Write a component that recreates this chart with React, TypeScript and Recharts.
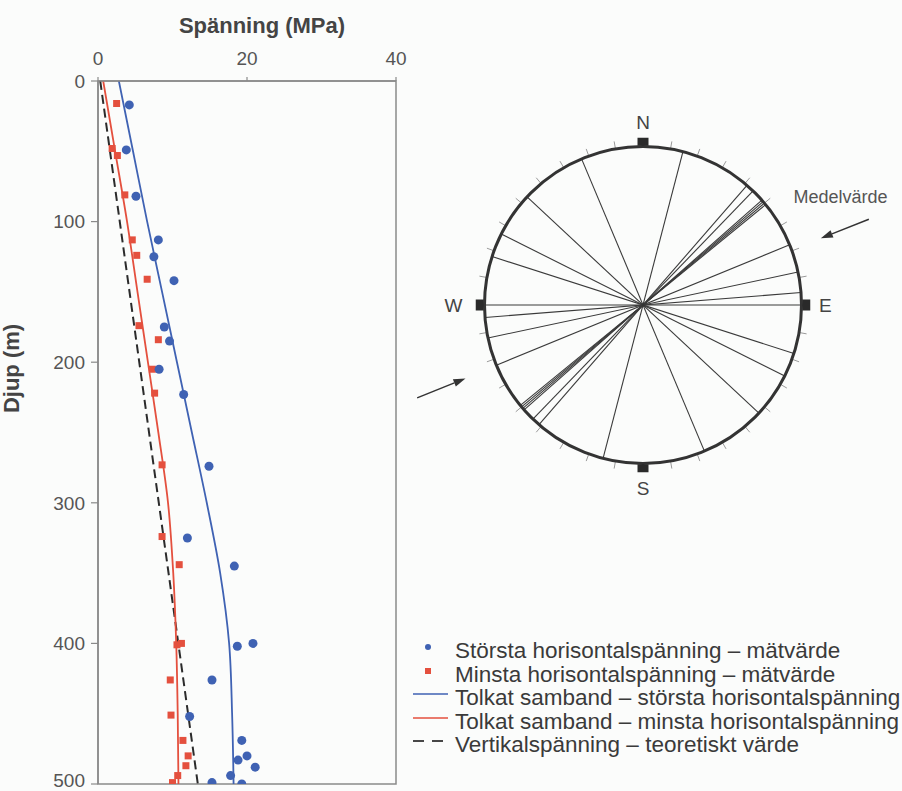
import React from "react";
import {
  ComposedChart,
  Line,
  Scatter,
  XAxis,
  YAxis,
  ReferenceArea,
  ReferenceLine,
  ReferenceDot,
  Legend,
} from "recharts";

const FONT = '"Liberation Sans", Arial, Helvetica, sans-serif';
const BLUE = "#3f62b3";
const RED = "#e4503e";
const INK = "#333333";
const AXIS = "#8a8a8a";

// Measured stresses (s = MPa, d = depth in m)
const maxHorizontal = [
  { s: 4.2, d: 17 }, { s: 3.8, d: 49 }, { s: 5.1, d: 82 }, { s: 8.1, d: 113 },
  { s: 7.5, d: 125 }, { s: 10.2, d: 142 }, { s: 8.9, d: 175 }, { s: 9.6, d: 185 },
  { s: 8.2, d: 205 }, { s: 11.5, d: 223 }, { s: 14.9, d: 274 }, { s: 12.0, d: 325 },
  { s: 18.3, d: 345 }, { s: 18.7, d: 402 }, { s: 20.8, d: 400 }, { s: 15.3, d: 426 },
  { s: 12.3, d: 452 }, { s: 19.3, d: 469 }, { s: 18.8, d: 483 }, { s: 20.0, d: 480 },
  { s: 21.1, d: 488 }, { s: 17.8, d: 494 }, { s: 15.3, d: 499 }, { s: 19.3, d: 500 },
];

const minHorizontal = [
  { s: 2.5, d: 16 }, { s: 1.9, d: 48 }, { s: 2.6, d: 53 }, { s: 3.6, d: 81 },
  { s: 4.6, d: 113 }, { s: 5.2, d: 124 }, { s: 6.6, d: 141 }, { s: 5.5, d: 174 },
  { s: 8.1, d: 184 }, { s: 7.3, d: 205 }, { s: 7.6, d: 222 }, { s: 8.6, d: 273 },
  { s: 8.6, d: 324 }, { s: 10.9, d: 344 }, { s: 10.6, d: 401 }, { s: 11.2, d: 400 },
  { s: 9.7, d: 426 }, { s: 9.8, d: 451 }, { s: 11.4, d: 469 }, { s: 12.1, d: 480 },
  { s: 11.8, d: 487 }, { s: 10.7, d: 494 }, { s: 10.0, d: 499 },
];

// Interpreted trends
const fitDepths = [0, 50, 100, 150, 200, 250, 300, 350, 400, 450, 500];
const fitMax = [2.8, 4.7, 6.6, 8.6, 10.6, 12.6, 14.6, 16.4, 17.6, 18.0, 18.2];
const fitMin = [0.7, 2.3, 3.9, 5.3, 6.7, 8.1, 9.4, 10.1, 10.5, 10.7, 10.8];

// Theoretical vertical stress
const verticalDepths = [0, 500];
const verticalStress = [0.3, 13.4];

const stressTicks = [0, 20, 40];
const depthTicks = [0, 100, 200, 300, 400, 500];

// Directions of the largest horizontal stress, degrees from north
const orientations = [14.6, 41, 44, 48.6, 49.3, 50, 50.7, 67.7, 78, 85.5, 90, 107.8, 116.6, 133, 157.2];
const cardinals = [
  { name: "N", az: 0, label: 1.15 },
  { name: "E", az: 90, label: 1.15 },
  { name: "S", az: 180, label: 1.155 },
  { name: "W", az: 270, label: 1.195 },
];

const legendItems = [
  { label: "Största horisontalspänning – mätvärde", kind: "dot", color: BLUE },
  { label: "Minsta horisontalspänning – mätvärde", kind: "square", color: RED },
  { label: "Tolkat samband – största horisontalspänning", kind: "line", color: BLUE },
  { label: "Tolkat samband – minsta horisontalspänning", kind: "line", color: RED },
  { label: "Vertikalspänning – teoretiskt värde", kind: "dash", color: INK },
];

const fitMaxData = fitDepths.map((d, i) => ({ d, s: fitMax[i] }));
const fitMinData = fitDepths.map((d, i) => ({ d, s: fitMin[i] }));
const verticalData = verticalDepths.map((d, i) => ({ d, s: verticalStress[i] }));

// rose geometry: px per unit radius and chart box
const ROSE_R = 158.5;
const ROSE_W = 520;
const ROSE_H = 420;
const ROSE_CX = 642.5;
const ROSE_CY = 305;
const xSpan = ROSE_W / 2 / ROSE_R;
const ySpan = ROSE_H / 2 / ROSE_R;

const polar = (az: number, r: number) => {
  const a = (az * Math.PI) / 180;
  return { x: r * Math.sin(a), y: r * Math.cos(a) };
};

const tickAngles: number[] = [];
for (let a = 10; a < 360; a += 10) if (a % 90 !== 0) tickAngles.push(a);

const arrows = [
  { from: { x: 1.425, y: 0.541 }, to: { x: 1.122, y: 0.421 } },
  { from: { x: -1.425, y: -0.586 }, to: { x: -1.12, y: -0.463 } },
];
const meanLabelPos = { x: 0.9495, y: 0.6435 };

const circleShape = (p: any) => <circle cx={p.cx} cy={p.cy} r={4.5} fill={BLUE} />;
const squareShape = (p: any) => (
  <rect x={p.cx - 3.5} y={p.cy - 3.5} width={7} height={7} fill={RED} />
);

const arrowShape = (p: any) => {
  const { x1, y1, x2, y2 } = p;
  const ang = Math.atan2(y2 - y1, x2 - x1);
  const len = 12;
  const half = 4;
  const bx = x2 - len * Math.cos(ang);
  const by = y2 - len * Math.sin(ang);
  const nx = -Math.sin(ang) * half;
  const ny = Math.cos(ang) * half;
  return (
    <g>
      <line x1={x1} y1={y1} x2={bx} y2={by} stroke={INK} strokeWidth={1.5} />
      <polygon points={`${x2},${y2} ${bx + nx},${by + ny} ${bx - nx},${by - ny}`} fill={INK} />
    </g>
  );
};

const LegendBox = () => (
  <div style={{ fontFamily: FONT, fontSize: 22.5, color: "#3a3a3a", whiteSpace: "nowrap" }}>
    {legendItems.map((item) => (
      <div key={item.label} style={{ display: "flex", height: 23.5 }}>
        <svg width={45} height={23.5} style={{ flex: "none" }}>
          {item.kind === "dot" && <circle cx={18} cy={8} r={3} fill={item.color} />}
          {item.kind === "square" && <rect x={15} y={5} width={6} height={6} fill={item.color} />}
          {item.kind === "line" && <line x1={3} y1={8} x2={38} y2={8} stroke={item.color} strokeWidth={1.6} />}
          {item.kind === "dash" && (
            <g stroke={item.color} strokeWidth={1.8}>
              <line x1={3} y1={8} x2={14} y2={8} />
              <line x1={22} y1={8} x2={33} y2={8} />
            </g>
          )}
        </svg>
        <span style={{ lineHeight: "23.5px" }}>{item.label}</span>
      </div>
    ))}
  </div>
);

export default function App() {
  return (
    <div
      style={{
        position: "absolute",
        left: 0,
        top: 0,
        width: 902,
        height: 791,
        background: "#fbfcfb",
        overflow: "hidden",
        fontFamily: FONT,
      }}
    >
      <ComposedChart
        layout="vertical"
        width={902}
        height={791}
        margin={{ top: 51, right: 506, bottom: 7, left: 38 }}
      >
        <XAxis
          type="number"
          dataKey="s"
          orientation="top"
          domain={[0, 40]}
          ticks={stressTicks}
          allowDataOverflow
          height={30}
          tickSize={4}
          tickMargin={12}
          axisLine={{ stroke: AXIS, strokeWidth: 1.5 }}
          tickLine={{ stroke: AXIS, strokeWidth: 1.2 }}
          tick={{ fill: "#555", fontSize: 19, fontFamily: FONT }}
          label={{
            value: "Spänning (MPa)",
            position: "center",
            dx: 15,
            dy: -41,
            fill: "#444",
            fontSize: 22,
            fontWeight: 700,
            fontFamily: FONT,
          }}
        />
        <YAxis
          type="number"
          dataKey="d"
          domain={[0, 500]}
          ticks={depthTicks}
          allowDataOverflow
          width={60}
          tickSize={7}
          tickMargin={6}
          axisLine={{ stroke: AXIS, strokeWidth: 1.5 }}
          tickLine={{ stroke: AXIS, strokeWidth: 1.2 }}
          tick={{ fill: "#555", fontSize: 19, fontFamily: FONT }}
          label={{
            value: "Djup (m)",
            angle: -90,
            position: "center",
            dx: -57,
            dy: -64,
            fill: "#444",
            fontSize: 22,
            fontWeight: 700,
            fontFamily: FONT,
          }}
        />
        <ReferenceArea x1={0} x2={40} y1={0} y2={500} fill="none" fillOpacity={0} stroke={AXIS} strokeWidth={1.5} />
        <Line
          data={verticalData}
          dataKey="s"
          type="linear"
          stroke="#2b2b2b"
          strokeWidth={2}
          strokeDasharray="9 5"
          dot={false}
          isAnimationActive={false}
        />
        <Line
          data={fitMinData}
          dataKey="s"
          type="monotone"
          stroke={RED}
          strokeWidth={1.8}
          dot={false}
          isAnimationActive={false}
        />
        <Line
          data={fitMaxData}
          dataKey="s"
          type="monotone"
          stroke={BLUE}
          strokeWidth={1.8}
          dot={false}
          isAnimationActive={false}
        />
        <Scatter data={minHorizontal} shape={squareShape} isAnimationActive={false} />
        <Scatter data={maxHorizontal} shape={circleShape} isAnimationActive={false} />
        <Legend
          layout="horizontal"
          verticalAlign="middle"
          align="center"
          width={492}
          content={<LegendBox />}
          wrapperStyle={{ left: 410, top: 639.3, width: 492 }}
        />
      </ComposedChart>

      <div style={{ position: "absolute", left: ROSE_CX - ROSE_W / 2, top: ROSE_CY - ROSE_H / 2 }}>
        <ComposedChart width={ROSE_W} height={ROSE_H} margin={{ top: 0, right: 0, bottom: 0, left: 0 }}>
          <XAxis type="number" dataKey="x" domain={[-xSpan, xSpan]} allowDataOverflow hide />
          <YAxis type="number" dataKey="y" domain={[-ySpan, ySpan]} allowDataOverflow hide />
          {tickAngles.map((a) => (
            <ReferenceLine key={`t${a}`} segment={[polar(a, 1), polar(a, 1.048)]} stroke="#9a9a9a" strokeWidth={1} />
          ))}
          {orientations.map((az) => (
            <ReferenceLine
              key={`o${az}`}
              segment={[polar(az, 1), polar(az + 180, 1)]}
              stroke="#3a3a3a"
              strokeWidth={1.1}
            />
          ))}
          <ReferenceDot
            x={0}
            y={0}
            shape={(p: any) => (
              <circle cx={p.cx} cy={p.cy} r={ROSE_R} fill="none" stroke={INK} strokeWidth={3} />
            )}
          />
          {cardinals.map((c) => {
            const sq = polar(c.az, 1.03);
            const lb = polar(c.az, c.label);
            const vertical = c.az % 180 === 0;
            return (
              <React.Fragment key={c.name}>
                <ReferenceDot
                  x={sq.x}
                  y={sq.y}
                  shape={(p: any) => (
                    <rect
                      x={p.cx - (vertical ? 5.5 : 4)}
                      y={p.cy - (vertical ? 4 : 5.5)}
                      width={vertical ? 11 : 8}
                      height={vertical ? 8 : 11}
                      fill="#2a2a2a"
                    />
                  )}
                />
                <ReferenceDot
                  x={lb.x}
                  y={lb.y}
                  shape={(p: any) => (
                    <text
                      x={p.cx}
                      y={p.cy}
                      textAnchor="middle"
                      dominantBaseline="central"
                      fontSize={19}
                      fontFamily={FONT}
                      fill="#444"
                    >
                      {c.name}
                    </text>
                  )}
                />
              </React.Fragment>
            );
          })}
          {arrows.map((ar, i) => (
            <ReferenceLine key={`a${i}`} segment={[ar.from, ar.to]} shape={arrowShape} />
          ))}
          <ReferenceDot
            x={meanLabelPos.x}
            y={meanLabelPos.y}
            shape={(p: any) => (
              <text x={p.cx} y={p.cy} fontSize={18} fontFamily={FONT} fill="#555">
                Medelvärde
              </text>
            )}
          />
          <Scatter
            data={[{ x: 0, y: 0 }]}
            shape={(p: any) => <circle cx={p.cx} cy={p.cy} r={1.5} fill={INK} />}
            isAnimationActive={false}
          />
        </ComposedChart>
      </div>
    </div>
  );
}
